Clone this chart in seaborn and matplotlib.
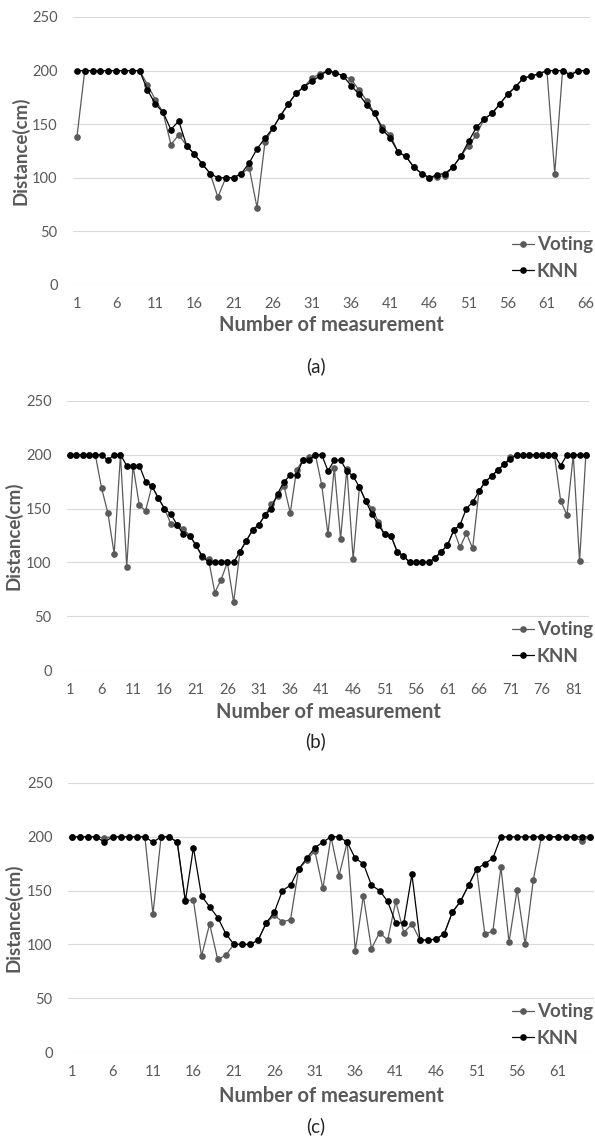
import numpy as np
import pandas as pd
import matplotlib.pyplot as plt
import seaborn as sns

sns.set_theme(style='white')
plt.rcParams['font.family'] = ['Lato', 'DejaVu Sans']

# (a) 66 measurements
knn_a = [200, 200, 200, 200, 200, 200, 200, 200, 200, 182,
         169, 161, 145, 153, 130, 122, 113, 104, 100, 100,
         100, 104, 114, 127, 137, 146, 158, 169, 179, 185,
         190, 195, 200, 198, 195, 186, 178, 168, 160, 145,
         137, 124, 120, 110, 104, 100, 103, 104, 110, 120,
         134, 147, 155, 160, 169, 178, 185, 193, 195, 197,
         200, 200, 200, 196, 200, 200]
vote_a = [138, 200, 200, 200, 200, 200, 200, 200, 200, 187,
          173, 161, 131, 140, 130, 122, 113, 104, 82, 100,
          100, 104, 109, 72, 133, 146, 158, 169, 179, 185,
          193, 197, 200, 198, 195, 192, 182, 172, 160, 147,
          140, 124, 120, 110, 104, 100, 101, 102, 110, 120,
          130, 140, 155, 160, 169, 178, 185, 193, 195, 197,
          200, 104, 200, 196, 200, 200]

# (b) 83 measurements
knn_b = [200, 200, 200, 200, 200, 200, 195, 200, 200, 190,
         190, 190, 175, 171, 160, 150, 145, 135, 126, 125,
         116, 106, 100, 100, 100, 100, 100, 110, 120, 130,
         135, 144, 150, 164, 175, 181, 181, 195, 195, 200,
         200, 185, 195, 195, 185, 180, 170, 157, 145, 135,
         126, 125, 110, 106, 100, 100, 100, 100, 104, 110,
         116, 130, 135, 150, 156, 166, 175, 180, 186, 191,
         196, 200, 200, 200, 200, 200, 200, 200, 190, 200,
         200, 200, 200]
vote_b = [200, 200, 200, 200, 200, 169, 146, 108, 200, 96,
          190, 153, 148, 171, 160, 150, 136, 135, 131, 125,
          116, 105, 103, 72, 84, 100, 63, 110, 120, 130,
          135, 144, 154, 162, 171, 146, 186, 195, 198, 200,
          172, 126, 188, 122, 187, 103, 170, 157, 150, 138,
          126, 125, 110, 106, 100, 100, 100, 100, 104, 110,
          116, 130, 114, 127, 113, 166, 175, 180, 186, 191,
          198, 200, 200, 200, 200, 200, 200, 200, 157, 144,
          200, 101, 200]

# (c) 65 measurements
knn_c = [200, 200, 200, 200, 195, 200, 200, 200, 200, 200,
         195, 200, 200, 195, 140, 190, 145, 135, 125, 110,
         100, 100, 100, 104, 120, 130, 150, 155, 170, 180,
         190, 195, 200, 200, 195, 180, 175, 155, 150, 140,
         120, 120, 165, 104, 104, 105, 110, 130, 140, 155,
         170, 175, 180, 200, 200, 200, 200, 200, 200, 200,
         200, 200, 200, 200, 200]
vote_c = [200, 200, 200, 200, 199, 200, 200, 200, 200, 200,
          128, 200, 200, 195, 141, 141, 89, 119, 86, 90,
          100, 100, 100, 104, 120, 127, 121, 123, 170, 178,
          187, 152, 200, 164, 195, 94, 145, 96, 111, 104,
          140, 111, 119, 104, 104, 105, 110, 130, 140, 155,
          170, 110, 112, 172, 102, 151, 100, 160, 200, 200,
          200, 200, 200, 196, 200]

y_ticks = [0, 50, 100, 150, 200, 250]
captions = ['(a)', '(b)', '(c)']

GREY = '#595959'
W, H = 595, 1142


def fx(x):
    return x / W


def fy(y):
    return 1 - y / H


fig = plt.figure(figsize=(W / 100, H / 100), dpi=100)

# pixel boxes: left, right, top(250), bottom(0); y-label column, x-label / caption rows
layout = [
    dict(l=73, r=590, t=17, b=285, yl=20, xl=325, cap=366),
    dict(l=67, r=589, t=401, b=670, yl=13, xl=712, cap=741),
    dict(l=68, r=594, t=783, b=1052, yl=13, xl=1096, cap=1126),
]
data = [(vote_a, knn_a), (vote_b, knn_b), (vote_c, knn_c)]

for (vote, knn), lay, cap in zip(data, layout, captions):
    ax = fig.add_axes([fx(lay['l']), fy(lay['b']),
                       (lay['r'] - lay['l']) / W, (lay['b'] - lay['t']) / H])
    n = len(knn)
    df = pd.DataFrame({'idx': np.arange(1, n + 1), 'Voting': vote, 'KNN': knn})
    sns.lineplot(data=df, x='idx', y='Voting', color='#5a5a5a', lw=0.9,
                 marker='o', markersize=4.8, markeredgewidth=0,
                 label='Voting', ax=ax)
    sns.lineplot(data=df, x='idx', y='KNN', color='#000000', lw=0.9,
                 marker='o', markersize=4.8, markeredgewidth=0,
                 label='KNN', ax=ax)
    ax.set_xlim(0.5, n + 0.5)
    ax.set_ylim(0, 250)
    ax.set_yticks(y_ticks)
    ax.set_xticks(np.arange(1, n + 1, 5))
    ax.grid(axis='y', color='#d9d9d9', lw=0.8)
    ax.set_axisbelow(True)
    for s in ax.spines.values():
        s.set_visible(False)
    ax.tick_params(length=0, labelsize=10.5, labelcolor=GREY)
    ax.tick_params(axis='y', pad=11)
    ax.tick_params(axis='x', pad=9)
    ax.set_xlabel('')
    ax.set_ylabel('')
    # legend right edge pinned near the picture's right border
    anchor_x = (593 - lay['l']) / (lay['r'] - lay['l'])
    ax.legend(loc='lower right', bbox_to_anchor=(anchor_x, 0.02),
              frameon=False, prop={'size': 13.5, 'weight': 'bold'},
              labelcolor=GREY, handlelength=1.2, handletextpad=0.15,
              labelspacing=0.5, borderpad=0, borderaxespad=0)
    fig.text(fx((lay['l'] + lay['r']) / 2), fy(lay['xl']), 'Number of measurement',
             ha='center', va='center', fontsize=14.5, fontweight='bold', color=GREY)
    fig.text(fx(lay['yl']), fy((lay['t'] + lay['b']) / 2), 'Distance(cm)', rotation=90,
             ha='center', va='center', fontsize=13.5, fontweight='bold', color=GREY)
    fig.text(fx(316), fy(lay['cap']), cap, ha='center', va='center',
             fontsize=13.5, color='#222222')

fig.savefig('out.png', dpi=100)
